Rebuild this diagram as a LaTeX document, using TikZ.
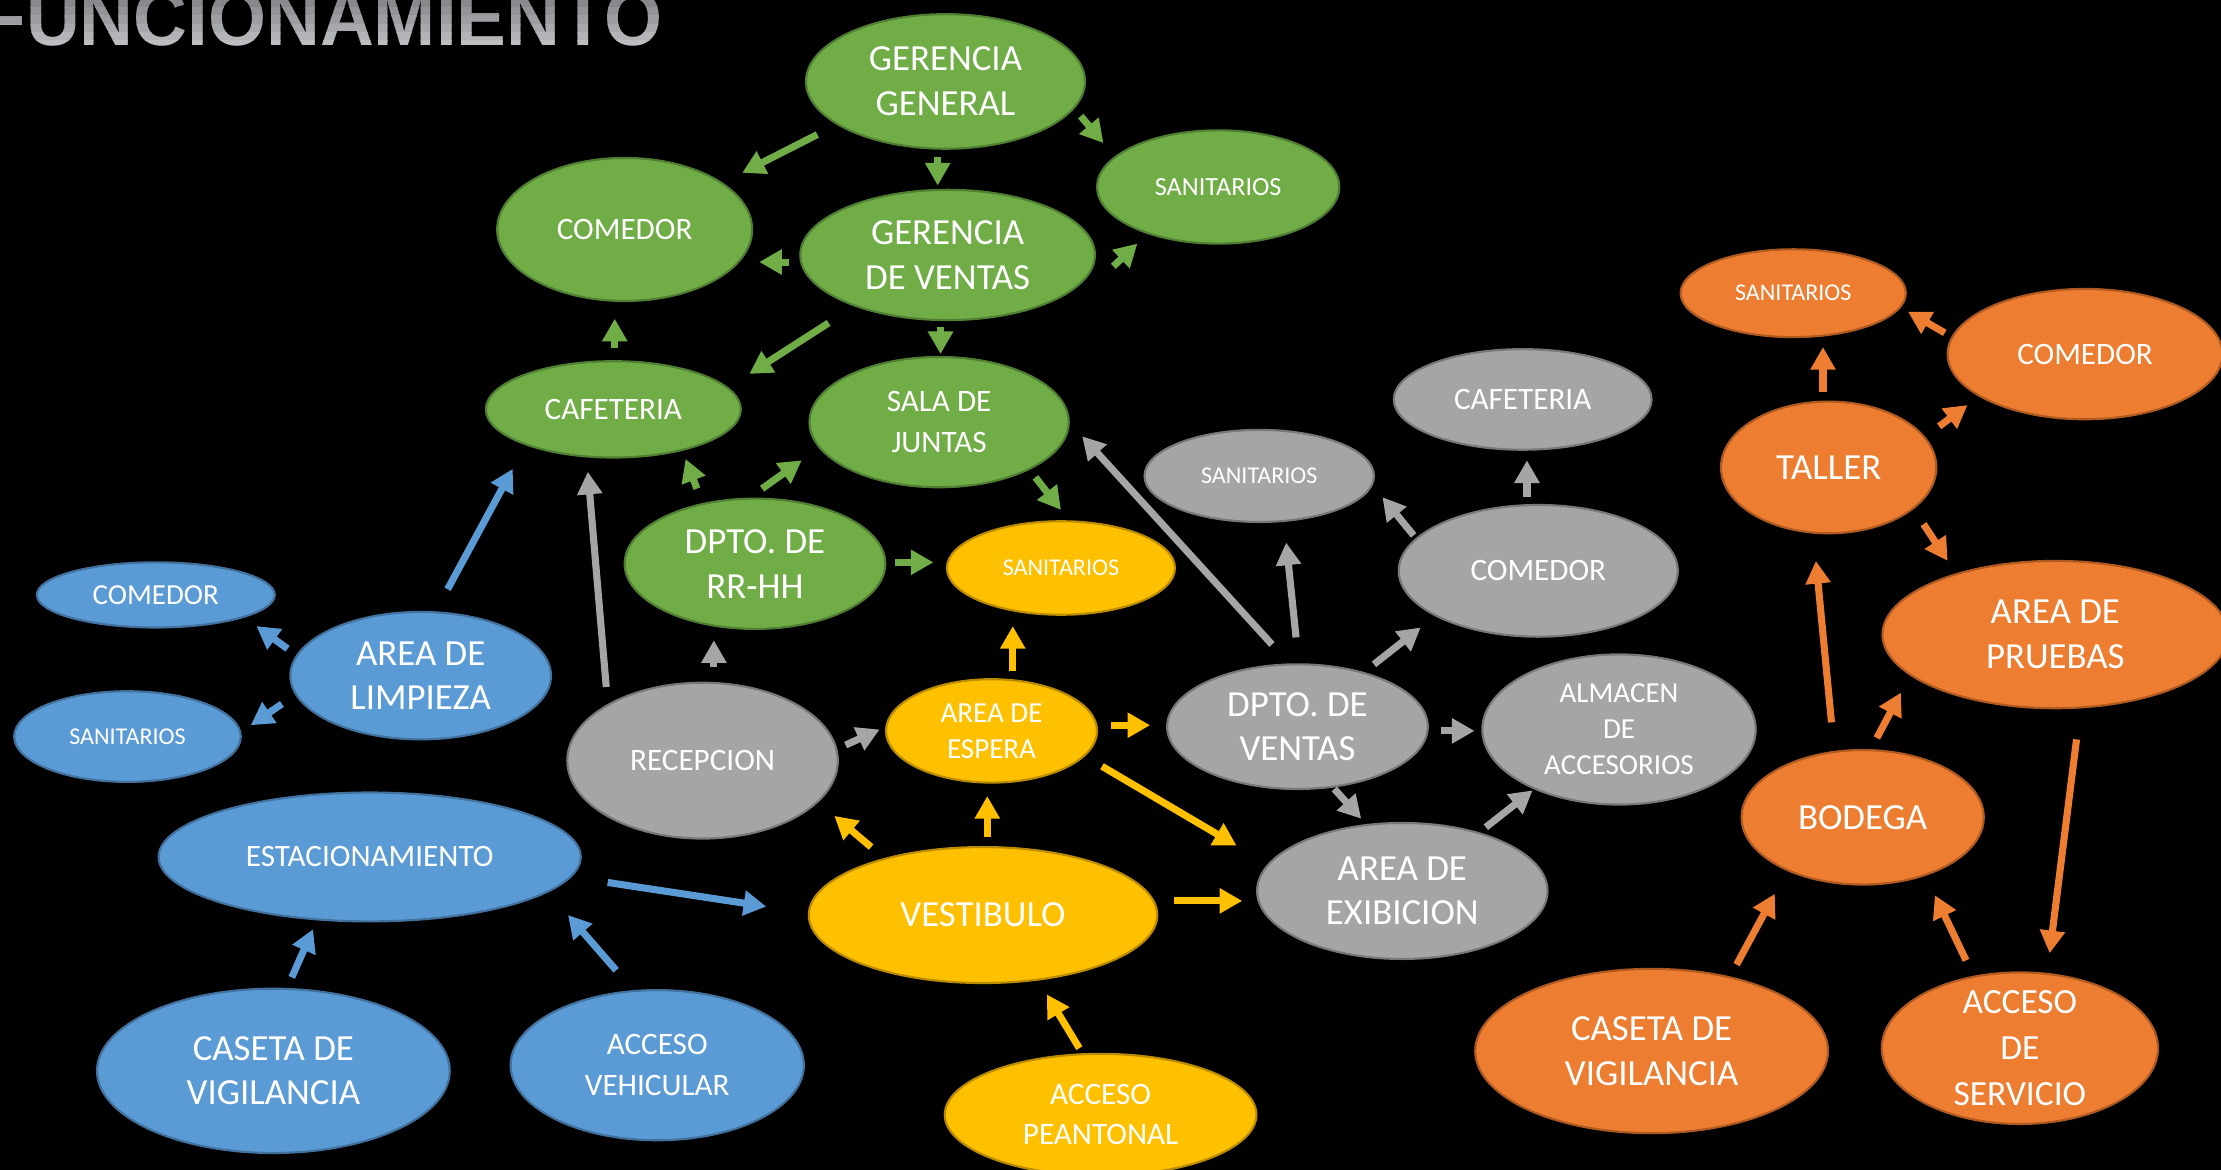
\documentclass[tikz,border=0pt]{standalone}
\usepackage{fontspec}
\setmainfont{Carlito}
\newfontfamily\ttlfont[FakeStretch=0.94]{Liberation Sans}
\usetikzlibrary{shapes.geometric,arrows.meta,calc}
\definecolor{gfill}{HTML}{70AD47}\definecolor{gline}{HTML}{507E32}
\definecolor{yfill}{HTML}{FFC000}\definecolor{yline}{HTML}{BC8C00}
\definecolor{kfill}{HTML}{A5A5A5}\definecolor{kline}{HTML}{787878}
\definecolor{bfill}{HTML}{5B9BD5}\definecolor{bline}{HTML}{41719C}
\definecolor{ofill}{HTML}{ED7D31}\definecolor{oline}{HTML}{AE5A21}
\definecolor{ttop}{HTML}{737478}\definecolor{tbot}{HTML}{BDBEC1}
\newcommand\szL{\fontsize{26}{31.5}\selectfont}
\newcommand\szM{\fontsize{22}{28.5}\selectfont}
\newcommand\szE{\fontsize{20.5}{25.5}\selectfont}
\newcommand\szS{\fontsize{17}{21}\selectfont}
\tikzset{
  bub/.style={ellipse, inner sep=-8pt, outer sep=0pt, line width=1.5pt, text=white, align=center},
  gb/.style={bub, fill=gfill, draw=gline},
  yb/.style={bub, fill=yfill, draw=yline},
  kb/.style={bub, fill=kfill, draw=kline},
  bb/.style={bub, fill=bfill, draw=bline},
  ob/.style={bub, fill=ofill, draw=oline},
  arrowbase/.style={line width=5pt, -{Triangle[length=16pt,width=17pt]}},
  garr/.style={arrowbase, draw=gfill},
  yarr/.style={arrowbase, draw=yfill},
  karr/.style={arrowbase, draw=kfill},
  barr/.style={arrowbase, draw=bfill},
  oarr/.style={arrowbase, draw=ofill}
}
\begin{document}
\begin{tikzpicture}[x=1pt,y=-1pt]
\useasboundingbox (0,0) rectangle (1568,826);
\clip (0,0) rectangle (1568,826);
\fill[black] (0,0) rectangle (1568,826);
% title with vertical gradient (strips)
\foreach \i in {0,...,7}{
  \pgfmathsetmacro\pct{100-\i*100/7}
  \begin{scope}
    \clip (-30,-12+\i*5.8) rectangle (520,-12+\i*5.8+5.9);
    \node[anchor=base west, inner sep=0pt, font=\ttlfont\bfseries\fontsize{56}{64}\selectfont, text=ttop!\pct!tbot] (title\i) at (-14,32) {FUNCIONAMIENTO};
  \end{scope}
}
% green
\node[gb, minimum width=197, minimum height=95, font=\szL] (gg) at (667.5,57.5) {GERENCIA\\GENERAL};
\node[gb, minimum width=171, minimum height=80, font=\fontsize{18.5}{22}\selectfont] (san1) at (860,132) {SANITARIOS};
\node[gb, minimum width=180, minimum height=101, font=\szM] (com1) at (441,162) {COMEDOR};
\node[gb, minimum width=208, minimum height=92, font=\szL] (gv) at (669,180) {GERENCIA\\DE VENTAS};
\node[gb, minimum width=180, minimum height=68, font=\szM] (caf1) at (433,289) {CAFETERIA};
\node[gb, minimum width=183, minimum height=92, font=\szM] (sj) at (663,298) {SALA DE\\JUNTAS};
\node[gb, minimum width=184, minimum height=92, font=\szL] (rrhh) at (533,398) {DPTO. DE\\RR-HH};
% yellow
\node[yb, minimum width=161, minimum height=66, font=\szS] (san2) at (749,401) {SANITARIOS};
\node[yb, minimum width=149, minimum height=73, font=\szE] (esp) at (700,516) {AREA DE\\ESPERA};
\node[yb, minimum width=246, minimum height=96, font=\szL] (vest) at (694,646) {VESTIBULO};
\node[yb, minimum width=220, minimum height=86, font=\szM] (apea) at (777,787) {ACCESO\\PEANTONAL};
% gray
\node[kb, minimum width=191, minimum height=110, font=\szM] (recep) at (496,537) {RECEPCION};
\node[kb, minimum width=162, minimum height=65, font=\szS] (san3) at (889,336) {SANITARIOS};
\node[kb, minimum width=182, minimum height=71, font=\szM] (caf2) at (1075,282) {CAFETERIA};
\node[kb, minimum width=197, minimum height=93, font=\szM] (com2) at (1086,403) {COMEDOR};
\node[kb, minimum width=184, minimum height=88, font=\szL] (dv) at (916,513) {DPTO. DE\\VENTAS};
\node[kb, minimum width=205, minimum height=96, font=\szL] (exib) at (990,629) {AREA DE\\EXIBICION};
\node[kb, minimum width=193, minimum height=106, font=\szE] (alm) at (1143,515) {ALMACEN\\DE\\ACCESORIOS};
% blue
\node[bb, minimum width=168, minimum height=46, font=\fontsize{20.5}{24}\selectfont] (com3) at (110,420) {COMEDOR};
\node[bb, minimum width=184, minimum height=90, font=\szL] (limp) at (297,477) {AREA DE\\LIMPIEZA};
\node[bb, minimum width=160, minimum height=64, font=\szS] (san4) at (90,520) {SANITARIOS};
\node[bb, minimum width=298, minimum height=91, font=\szM] (est) at (261,605) {ESTACIONAMIENTO};
\node[bb, minimum width=249, minimum height=116, font=\szL] (cas1) at (193,756) {CASETA DE\\VIGILANCIA};
\node[bb, minimum width=207, minimum height=106, font=\szM] (aveh) at (464,752) {ACCESO\\VEHICULAR};
% orange
\node[ob, minimum width=159, minimum height=62, font=\szS] (san5) at (1266,207) {SANITARIOS};
\node[ob, minimum width=194, minimum height=92, font=\szM] (com4) at (1472,250) {COMEDOR};
\node[ob, minimum width=152, minimum height=93, font=\szL] (taller) at (1291,330) {TALLER};
\node[ob, minimum width=244, minimum height=104, font=\szL] (apru) at (1451,448) {AREA DE\\PRUEBAS};
\node[ob, minimum width=171, minimum height=95, font=\szL] (bod) at (1315,577) {BODEGA};
\node[ob, minimum width=249, minimum height=116, font=\szL] (cas2) at (1166,742) {CASETA DE\\VIGILANCIA};
\node[ob, minimum width=195, minimum height=107, font=\fontsize{25}{32.5}\selectfont] (aserv) at (1426,740) {ACCESO\\DE\\SERVICIO};
% green arrows
\draw[garr] ($(gg)+(-90.5,37.5)$) -- ($(com1)+(83,-40)$);
\draw[garr] ($(gg)+(-5.5,53.5)$) -- ($(gv)+(-7,-49)$);
\draw[garr] ($(gg)+(95.5,24.5)$) -- ($(san1)+(-81,-31)$);
\draw[garr] ($(gv)+(-112,5)$) -- ($(com1)+(95,23)$);
\draw[garr] ($(gv)+(117,8)$) -- ($(san1)+(-57,40)$);
\draw[garr] ($(gv)+(-84,48)$) -- ($(caf1)+(96,-25)$);
\draw[garr] ($(gv)+(-5,51)$) -- ($(sj)+(1,-48)$);
\draw[garr] ($(caf1)+(1,-43)$) -- ($(com1)+(-7,63)$);
\draw[garr] ($(rrhh)+(-41,-53)$) -- ($(caf1)+(51,35)$);
\draw[garr] ($(rrhh)+(5,-53)$) -- ($(sj)+(-97,27)$);
\draw[garr] ($(sj)+(68,39)$) -- ($(san2)+(0,-41)$);
\draw[garr] ($(rrhh)+(99,-1)$) -- ($(san2)+(-90,-4)$);
% gray arrows
\draw[karr] ($(recep)+(-68,-52)$) -- ($(caf1)+(-18,44)$);
\draw[karr] ($(recep)+(8,-66)$) -- ($(rrhh)+(-29,54)$);
\draw[karr] ($(recep)+(101,-11)$) -- ($(esp)+(-79,-1)$);
\draw[karr] ($(dv)+(-18,-58)$) -- ($(sj)+(101,10)$);
\draw[karr] ($(dv)+(-1,-63)$) -- ($(san3)+(19,47)$);
\draw[karr] ($(dv)+(54,-44)$) -- ($(com2)+(-83,40)$);
\draw[karr] ($(com2)+(-8,-52)$) -- ($(caf2)+(3,43)$);
\draw[karr] ($(com2)+(-88,-25)$) -- ($(san3)+(87,15)$);
\draw[karr] ($(dv)+(101,3)$) -- ($(alm)+(-102,1)$);
\draw[karr] ($(dv)+(26,44)$) -- ($(exib)+(-29,-51)$);
\draw[karr] ($(exib)+(59,-45)$) -- ($(alm)+(-61,43)$);
% yellow arrows
\draw[yarr] ($(esp)+(15,-42)$) -- ($(san2)+(-34,41)$);
\draw[yarr] ($(esp)+(84,-4)$) -- ($(dv)+(-104,-1)$);
\draw[yarr] ($(esp)+(78,25)$) -- ($(exib)+(-117,-32)$);
\draw[yarr] ($(vest)+(3,-55)$) -- ($(esp)+(-3,46)$);
\draw[yarr] ($(vest)+(-79,-48)$) -- ($(recep)+(93,39)$);
\draw[yarr] ($(vest)+(135,-10)$) -- ($(exib)+(-113,7)$);
\draw[yarr] ($(apea)+(-15,-47)$) -- ($(vest)+(45,56)$);
% blue arrows
\draw[barr] ($(limp)+(19,-61)$) -- ($(caf1)+(-71,42)$);
\draw[barr] ($(limp)+(-94,-19)$) -- ($(com3)+(71,22)$);
\draw[barr] ($(limp)+(-98,20)$) -- ($(san4)+(87,-8)$);
\draw[barr] ($(est)+(168,18)$) -- ($(vest)+(-153,-6)$);
\draw[barr] ($(cas1)+(13,-66)$) -- ($(est)+(-40,51)$);
\draw[barr] ($(aveh)+(-29,-67)$) -- ($(est)+(140,41)$);
% orange arrows
\draw[oarr] ($(taller)+(-4,-53)$) -- ($(san5)+(21,38)$);
\draw[oarr] ($(com4)+(-99,-15)$) -- ($(san5)+(81,13)$);
\draw[oarr] ($(taller)+(78,-29)$) -- ($(com4)+(-83,36)$);
\draw[oarr] ($(taller)+(67,40)$) -- ($(apru)+(-76,-52)$);
\draw[oarr] ($(bod)+(-22,-67)$) -- ($(taller)+(-9,66)$);
\draw[oarr] ($(bod)+(10,-56)$) -- ($(apru)+(-109,41)$);
\draw[oarr] ($(apru)+(15,74)$) -- ($(aserv)+(21,-67)$);
\draw[oarr] ($(cas2)+(60,-61)$) -- ($(bod)+(-62,54)$);
\draw[oarr] ($(aserv)+(-38,-62)$) -- ($(bod)+(51,55)$);
\end{tikzpicture}
\end{document}
